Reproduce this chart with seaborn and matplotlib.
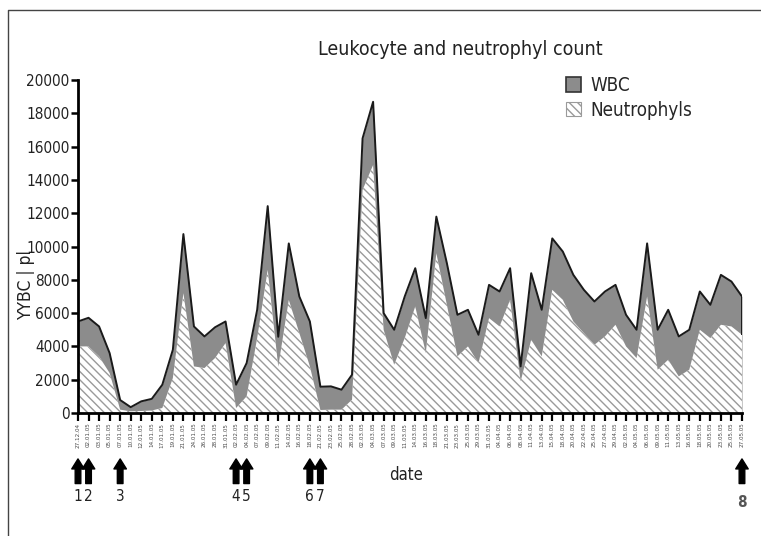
import pandas as pd
import seaborn as sns
import matplotlib.pyplot as plt
import matplotlib.transforms as mtransforms
from matplotlib.lines import Line2D
from matplotlib.patches import Patch

dates = """27.12.04 02.01.05 03.01.05 05.01.05 07.01.05 10.01.05 12.01.05 14.01.05
17.01.05 19.01.05 21.01.05 24.01.05 26.01.05 28.01.05 31.01.05 02.02.05
04.02.05 07.02.05 09.02.05 11.02.05 14.02.05 16.02.05 18.02.05 21.02.05
23.02.05 25.02.05 28.02.05 02.03.05 04.03.05 07.03.05 09.03.05 11.03.05
14.03.05 16.03.05 18.03.05 21.03.05 23.03.05 25.03.05 29.03.05 31.03.05
04.04.05 06.04.05 08.04.05 11.04.05 13.04.05 15.04.05 18.04.05 20.04.05
22.04.05 25.04.05 27.04.05 29.04.05 02.05.05 04.05.05 06.05.05 09.05.05
11.05.05 13.05.05 16.05.05 18.05.05 20.05.05 23.05.05 25.05.05 27.05.05""".split()

wbc = [5500, 5720, 5200, 3600, 780, 350, 700, 850, 1700, 3800,
       10750, 5200, 4600, 5150, 5500, 1700, 3000, 6200, 12430, 4580,
       10190, 7000, 5500, 1580, 1600, 1400, 2300, 16500, 18700, 6000,
       5000, 7000, 8700, 5700, 11800, 9000, 5900, 6200, 4700, 7700,
       7300, 8700, 2800, 8400, 6200, 10490, 9700, 8300, 7400, 6700,
       7300, 7700, 5900, 5000, 10190, 5000, 6200, 4600, 5000, 7300,
       6500, 8300, 7900, 7000]

neutrophyls = [4000, 4000, 3400, 2400, 200, 100, 120, 150, 300, 2100,
               7200, 2800, 2700, 3300, 4200, 300, 1000, 4500, 8600, 2780,
               6790, 4800, 2800, 180, 200, 200, 800, 13400, 14900, 5000,
               2900, 4500, 6400, 3600, 9600, 6500, 3400, 4000, 3000, 5700,
               5200, 6800, 1900, 4400, 3400, 7400, 6800, 5500, 4800, 4100,
               4600, 5300, 4000, 3300, 7000, 2600, 3200, 2200, 2600, 5000,
               4500, 5300, 5200, 4700]

# treatment events marked with arrows under the axis
event_pos = [0, 1, 4, 15, 16, 22, 23, 63]
event_labels = ["1", "2", "3", "4", "5", "6", "7", "8"]

df = pd.DataFrame({
    "pos": range(len(dates)),
    "date": dates,
    "wbc": wbc,
    "neutrophyls": neutrophyls,
})

sns.set_style("ticks")
plt.rcParams["font.family"] = ["DejaVu Sans"]
plt.rcParams["font.stretch"] = "condensed"
plt.rcParams["hatch.linewidth"] = 1.0

fig = plt.figure(figsize=(7.61, 5.36), dpi=100)
ax = fig.add_axes([0.1025, 0.2295, 0.8725, 0.621])

gray = "#8c8c8c"
hatch_col = "#9a9a9a"
ax.fill_between(df.pos, df.wbc, color=gray, lw=0)
ax.fill_between(df.pos, df.neutrophyls, facecolor="white", hatch="\\\\\\\\",
                edgecolor=hatch_col, lw=0)
sns.lineplot(data=df, x="pos", y="wbc", color="#1a1a1a", lw=1.4, ax=ax)
ax.vlines(df.pos.iloc[-1], df.neutrophyls.iloc[-1], df.wbc.iloc[-1],
          color="#1a1a1a", lw=1.4)

ax.set_xlim(0, len(dates) - 1)
ax.set_ylim(0, 20000)
ax.set_yticks(range(0, 20001, 2000))
ax.set_xticks(df.pos)
ax.set_xticklabels(dates, rotation=90, fontsize=4.5, color="#4a4a4a")
ax.tick_params(axis="y", labelsize=11, length=5, width=1.8, color="black",
               labelcolor="#222222", pad=1)
ax.tick_params(axis="x", length=6, width=1.6, color="black", pad=1)
sns.despine(ax=ax)
for s in ("left", "bottom"):
    ax.spines[s].set_linewidth(2)
    ax.spines[s].set_color("black")

ax.set_xlabel("")
ax.set_ylabel("YYBC | pl", fontsize=12.5, color="#222222")
ax.yaxis.set_label_coords(-0.064, 0.384)

fig.text(0.605, 0.907, "Leukocyte and neutrophyl count", ha="center",
         va="center", fontsize=14, color="#222222")

handles = [
    Patch(facecolor=gray, edgecolor="#333333", lw=1.2, label="WBC"),
    Patch(facecolor="white", edgecolor=hatch_col, lw=0.8,
          hatch="\\\\\\\\", label="Neutrophyls"),
]
ax.legend(handles=handles, loc="upper left", bbox_to_anchor=(0.735, 1.012),
          frameon=False, fontsize=13.5, handlelength=0.8, handleheight=0.8,
          handletextpad=0.5, labelspacing=0.3, borderpad=0, borderaxespad=0)

trans = mtransforms.blended_transform_factory(ax.transData, ax.transAxes)
for p, lab in zip(event_pos, event_labels):
    ax.annotate("", xy=(p, -0.138), xytext=(p, -0.212), xycoords=trans,
                textcoords=trans, annotation_clip=False,
                arrowprops=dict(arrowstyle="simple,head_length=0.8,head_width=1.0,tail_width=0.45",
                                color="black", mutation_scale=9,
                                shrinkA=0, shrinkB=0))
    last = lab == event_labels[-1]
    ax.text(p, -0.27 if last else -0.252, lab, transform=trans, ha="center",
            va="center", fontsize=11, color="#555555" if last else "#222222",
            fontweight="bold" if last else "normal")

ax.text(31.1, -0.186, "date", transform=trans, ha="center", va="center",
        fontsize=12, color="#222222")

fig.add_artist(Line2D([0.0105, 0.0105, 1.0], [0.0, 0.9813, 0.9813],
                      transform=fig.transFigure, color="#444444", lw=1))

fig.savefig("out.png", dpi=100)
